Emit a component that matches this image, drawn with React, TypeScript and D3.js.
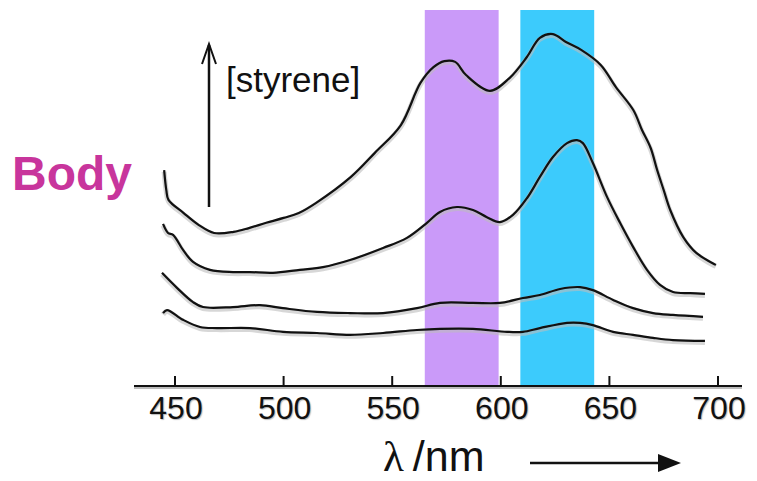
import React from "react";
import * as d3 from "d3";

// wavelength (nm) / relative absorbance readings for four styrene concentrations
const wl4 = [445, 446, 447, 454, 461, 468, 477, 484, 492, 500, 507, 515, 531, 542, 554, 563, 569, 574, 579, 584, 595, 604, 612, 618, 624, 630, 637, 646, 653, 661, 665, 669, 672, 675, 678, 684, 690, 699];
const ab4 = [0.574, 0.521, 0.495, 0.46, 0.428, 0.407, 0.41, 0.42, 0.434, 0.447, 0.46, 0.487, 0.556, 0.62, 0.694, 0.806, 0.848, 0.864, 0.862, 0.827, 0.785, 0.819, 0.875, 0.926, 0.936, 0.915, 0.894, 0.854, 0.795, 0.734, 0.681, 0.633, 0.574, 0.521, 0.468, 0.396, 0.354, 0.322];

const wl3 = [444.5, 446.8, 449.1, 453.7, 458.3, 466.1, 476.7, 484.5, 495.1, 507.5, 518.1, 530.6, 545.8, 556.8, 566, 572, 579.8, 587.2, 593.6, 599.6, 605.6, 612.1, 618, 624, 630.5, 635.1, 637.8, 642.4, 648.9, 654.9, 660.9, 667.3, 673.3, 679.3, 687.2, 694];
const ab3 = [0.431, 0.407, 0.402, 0.362, 0.33, 0.309, 0.303, 0.303, 0.301, 0.309, 0.316, 0.335, 0.367, 0.394, 0.434, 0.463, 0.476, 0.468, 0.449, 0.436, 0.455, 0.5, 0.556, 0.609, 0.646, 0.654, 0.646, 0.593, 0.503, 0.434, 0.37, 0.309, 0.269, 0.25, 0.247, 0.245];

const wl2 = [444, 450.9, 458.3, 462.9, 476.7, 489.1, 499.7, 515.4, 530.6, 545.8, 561.4, 572, 587.2, 599.6, 610.2, 618, 627.3, 636.5, 642.4, 651.7, 660.9, 670.1, 679.3, 693.1];
const ab2 = [0.301, 0.261, 0.223, 0.21, 0.21, 0.215, 0.207, 0.197, 0.194, 0.194, 0.207, 0.221, 0.221, 0.221, 0.234, 0.242, 0.258, 0.263, 0.255, 0.229, 0.207, 0.194, 0.189, 0.184];

const wl1 = [444.5, 446.3, 453.7, 461.5, 469.3, 484.5, 499.7, 515.4, 530.6, 545.8, 561.4, 572, 587.2, 602.9, 610.2, 618, 630.5, 636.5, 642.4, 651.7, 660.9, 670.1, 679.3, 694];
const ab1 = [0.194, 0.202, 0.176, 0.157, 0.154, 0.154, 0.144, 0.141, 0.136, 0.141, 0.149, 0.152, 0.152, 0.144, 0.144, 0.154, 0.168, 0.168, 0.162, 0.144, 0.136, 0.128, 0.122, 0.12];

const xTicks = [450, 500, 550, 600, 650, 700];
const bandPurple = [565, 599];
const bandCyan = [609, 643];

export default function App() {
  const x = d3.scaleLinear().domain([450, 700]).range([175, 718]);
  const y = d3.scaleLinear().domain([0, 1]).range([386, 10]);
  const line = d3
    .line<[number, number]>()
    .x((d) => x(d[0]))
    .y((d) => y(d[1]))
    .curve(d3.curveCatmullRom.alpha(0.5));

  const series = [
    [wl4, ab4],
    [wl3, ab3],
    [wl2, ab2],
    [wl1, ab1],
  ].map(([w, a]) => w.map((v, i) => [v, a[i]] as [number, number]));

  const bands = [
    { r: bandPurple, c: "#ca9af9" },
    { r: bandCyan, c: "#3ccbfc" },
  ];

  return (
    <svg
      width={757}
      height={481}
      style={{ position: "absolute", left: 0, top: 0, background: "#fff" }}
      fontFamily="'Liberation Sans', Arial, sans-serif"
    >
      {bands.map((b, i) => (
        <rect
          key={i}
          x={x(b.r[0])}
          y={y(1)}
          width={x(b.r[1]) - x(b.r[0])}
          height={y(0) - y(1)}
          fill={b.c}
        />
      ))}

      {/* curves with soft gray halo */}
      {series.map((s, i) => (
        <path key={"h" + i} d={line(s) || ""} fill="none" stroke="#bdbdbd" strokeWidth={5} strokeOpacity={0.6} transform="translate(0,1.5)" />
      ))}
      {series.map((s, i) => (
        <path key={"l" + i} d={line(s) || ""} fill="none" stroke="#111" strokeWidth={2.2} strokeLinejoin="round" />
      ))}

      {/* x axis */}
      <line x1={134} x2={742} y1={388} y2={388} stroke="#bbb" strokeWidth={2} />
      <line x1={134} x2={742} y1={y(0)} y2={y(0)} stroke="#111" strokeWidth={2} />
      {xTicks.map((t) => (
        <g key={t}>
          <line x1={x(t)} x2={x(t)} y1={y(0)} y2={y(0) - 10} stroke="#111" strokeWidth={2} />
          <text x={x(t) + 1} y={419} textAnchor="middle" fontSize={32} fill="#111" style={{ textShadow: "1px 1px 1px #bbb" }}>
            {t}
          </text>
        </g>
      ))}

      {/* x label and arrow */}
      <text x={383} y={471} fontSize={43} fill="#111">
        <tspan fontFamily="'Liberation Serif', 'DejaVu Serif', serif">λ</tspan>
        <tspan dx={9}>/nm</tspan>
      </text>
      <line x1={530} x2={662} y1={463} y2={463} stroke="#111" strokeWidth={2.5} />
      <path d="M658,454 L681,463 L658,472 Z" fill="#111" />

      {/* styrene arrow */}
      <line x1={209} x2={209} y1={207} y2={45} stroke="#111" strokeWidth={2.5} />
      <path d="M202,64 L209,44 L216,64" fill="none" stroke="#111" strokeWidth={2} />
      <text x={226} y={92} fontSize={35} fill="#111">
        [styrene]
      </text>

      {/* Body label */}
      <text x={12} y={190} fontSize={48} fontWeight="bold" fill="#c8359c">
        Body
      </text>
    </svg>
  );
}
